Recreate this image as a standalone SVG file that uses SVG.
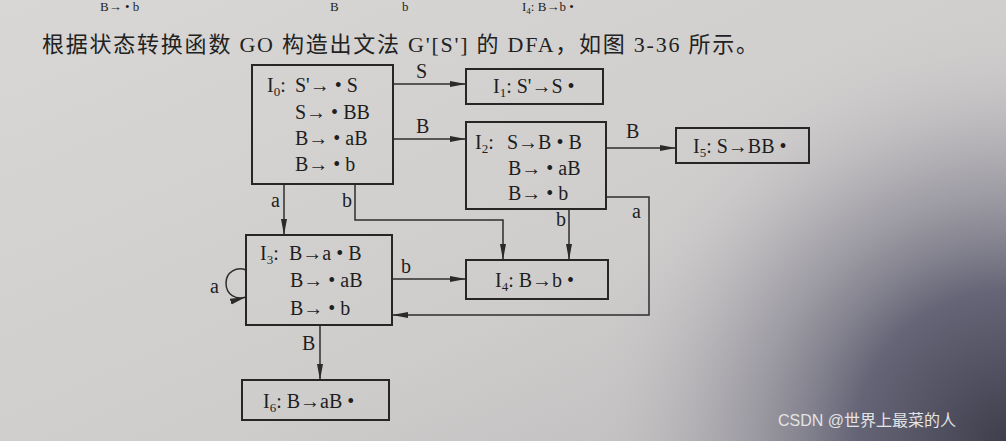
<svg xmlns="http://www.w3.org/2000/svg" width="1006" height="441" viewBox="0 0 1006 441">
<defs>
<linearGradient id="bg" x1="0" y1="0" x2="1" y2="1">
<stop offset="0" stop-color="#d8d7d5"/>
<stop offset="0.6" stop-color="#cfcdcc"/>
<stop offset="1" stop-color="#b9b7b8"/>
</linearGradient>
<radialGradient id="sh" cx="1006" cy="441" r="430" gradientUnits="userSpaceOnUse">
<stop offset="0" stop-color="#3e3e4c" stop-opacity="1"/>
<stop offset="0.35" stop-color="#55556a" stop-opacity="0.85"/>
<stop offset="0.7" stop-color="#8a8894" stop-opacity="0.35"/>
<stop offset="1" stop-color="#cfcdcc" stop-opacity="0"/>
</radialGradient>
<marker id="ar" viewBox="0 0 16 8" refX="16" refY="4" markerWidth="16" markerHeight="8" markerUnits="userSpaceOnUse" orient="auto">
<path d="M0,1 L16,4 L0,7 Z" fill="#2a2a2a"/>
</marker>
<style>
.box{fill:none;stroke:#262626;stroke-width:2}
.ln{fill:none;stroke:#2e2e2e;stroke-width:1.5}
.t{font-family:"Liberation Serif","Times New Roman",serif;font-size:20px;fill:#1e1e1e}
.s{font-size:13px}
.top{font-size:13px}
.cn{font-family:"Liberation Serif","Noto Sans CJK SC",serif;font-size:22px;fill:#222}
.wm{font-family:"Liberation Sans","Noto Sans CJK SC",sans-serif;font-size:16px;fill:#e4e4e4}
</style>
</defs>
<rect width="1006" height="441" fill="url(#bg)"/>
<rect width="1006" height="441" fill="url(#sh)"/>
<text class="t top" x="100" y="11">B→ • b</text>
<text class="t top" x="330" y="11">B</text>
<text class="t top" x="402" y="11">b</text>
<text class="t top" x="522" y="11">I<tspan font-size="9" dy="3">4</tspan><tspan dy="-3">: B→b •</tspan></text>
<text class="cn" x="42" y="52" textLength="716" lengthAdjust="spacing">根据状态转换函数 GO 构造出文法 G'[S'] 的 DFA，如图 3-36 所示。</text>
<g id="connectors">
<line class="ln" x1="393" y1="84" x2="466" y2="84" marker-end="url(#ar)"/>
<text class="t" x="416" y="78">S</text>
<line class="ln" x1="393" y1="139" x2="466" y2="139" marker-end="url(#ar)"/>
<text class="t" x="416" y="133">B</text>
<line class="ln" x1="606" y1="148" x2="676" y2="148" marker-end="url(#ar)"/>
<text class="t" x="626" y="138">B</text>
<polyline class="ln" points="606,197 649,197 649,315 392,315" marker-end="url(#ar)"/>
<text class="t" x="632" y="218">a</text>
<line class="ln" x1="569" y1="209" x2="569" y2="260" marker-end="url(#ar)"/>
<text class="t" x="556" y="226">b</text>
<line class="ln" x1="284" y1="184" x2="284" y2="235" marker-end="url(#ar)"/>
<text class="t" x="271" y="207">a</text>
<polyline class="ln" points="355,184 355,220 503,220 503,260" marker-end="url(#ar)"/>
<text class="t" x="342" y="207">b</text>
<line class="ln" x1="392" y1="279" x2="466" y2="279" marker-end="url(#ar)"/>
<text class="t" x="401" y="273">b</text>
<path class="ln" d="M246,270 C237,266 226,272 226,283 C226,295 236,300 246,297" marker-end="url(#ar)"/>
<text class="t" x="210" y="293">a</text>
<line class="ln" x1="320" y1="326" x2="320" y2="380" marker-end="url(#ar)"/>
<text class="t" x="302" y="350">B</text>
</g>
<g id="I0">
<rect class="box" x="252" y="65" width="141" height="119"/>
<text class="t" x="267" y="92">I<tspan class="s" dy="4">0</tspan><tspan dy="-4">:</tspan></text>
<text class="t" x="295" y="92">S'→ • S</text>
<text class="t" x="295" y="119">S→ • BB</text>
<text class="t" x="295" y="145">B→ • aB</text>
<text class="t" x="295" y="171">B→ • b</text>
</g>
<g id="I1">
<rect class="box" x="466" y="69" width="137" height="35"/>
<text class="t" x="493" y="93">I<tspan class="s" dy="4">1</tspan><tspan dy="-4">: S'→S •</tspan></text>
</g>
<g id="I2">
<rect class="box" x="466" y="122" width="140" height="87"/>
<text class="t" x="475" y="149">I<tspan class="s" dy="4">2</tspan><tspan dy="-4">:</tspan></text>
<text class="t" x="507" y="149">S→B • B</text>
<text class="t" x="508" y="175">B→ • aB</text>
<text class="t" x="508" y="200">B→ • b</text>
</g>
<g id="I5">
<rect class="box" x="676" y="128" width="133" height="35"/>
<text class="t" x="693" y="153">I<tspan class="s" dy="4">5</tspan><tspan dy="-4">: S→BB •</tspan></text>
</g>
<g id="I3">
<rect class="box" x="246" y="235" width="146" height="90"/>
<text class="t" x="260" y="260">I<tspan class="s" dy="4">3</tspan><tspan dy="-4">:</tspan></text>
<text class="t" x="289" y="260">B→a • B</text>
<text class="t" x="290" y="287">B→ • aB</text>
<text class="t" x="290" y="315">B→ • b</text>
</g>
<g id="I4">
<rect class="box" x="466" y="260" width="142" height="39"/>
<text class="t" x="495" y="287">I<tspan class="s" dy="4">4</tspan><tspan dy="-4">: B→b •</tspan></text>
</g>
<g id="I6">
<rect class="box" x="242" y="380" width="147" height="40"/>
<text class="t" x="263" y="408">I<tspan class="s" dy="4">6</tspan><tspan dy="-4">: B→aB •</tspan></text>
</g>
<text class="wm" x="778" y="426">CSDN @世界上最菜的人</text>
</svg>
